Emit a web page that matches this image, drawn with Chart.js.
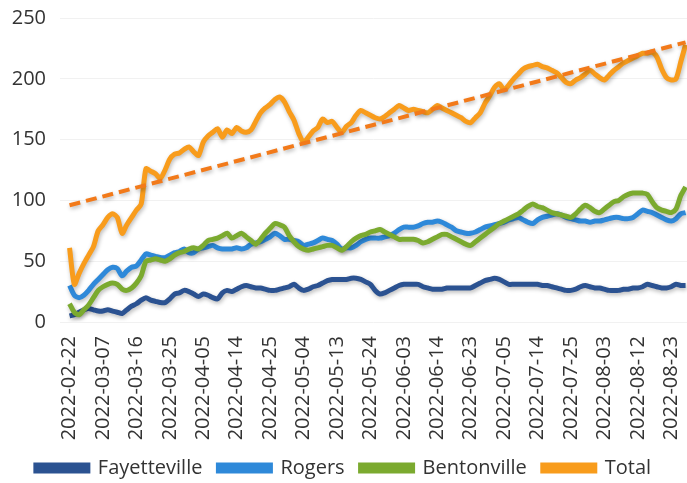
<!DOCTYPE html>
<html>
<head>
  <title>Daily counts by city</title>
  <script src="https://cdn.jsdelivr.net/npm/chart.js"></script>
  <style>
    body { margin: 0; background: #fff; }
    #wrap { width: 687px; height: 483px; }
  </style>
</head>
<body>
  <div id="wrap"><canvas id="cityChart" width="687" height="483"></canvas></div>

  <script>
    // tick labels, one every 7 data points
    const tickLabels = ['2022-02-22', '2022-03-07', '2022-03-16', '2022-03-25', '2022-04-05',
      '2022-04-14', '2022-04-25', '2022-05-04', '2022-05-13', '2022-05-24', '2022-06-03',
      '2022-06-14', '2022-06-23', '2022-07-05', '2022-07-14', '2022-07-25', '2022-08-03',
      '2022-08-12', '2022-08-23'];
    const tickStep = 7;

    const fayetteville = [5, 6, 8, 10, 11, 10, 9, 9, 10, 9, 8, 7, 10, 13, 15, 18, 20, 18, 17, 16,
      16, 19, 23, 24, 26, 25, 23, 21, 23, 22, 20, 19, 24, 26, 25, 27, 29, 30, 29, 28,
      28, 27, 26, 26, 27, 28, 29, 31, 28, 26, 27, 29, 30, 32, 34, 35, 35, 35, 35, 36,
      36, 35, 33, 31, 26, 23, 24, 26, 28, 30, 31, 31, 31, 31, 29, 28, 27, 27, 27, 28,
      28, 28, 28, 28, 28, 30, 32, 34, 35, 36, 35, 33, 31, 31, 31, 31, 31, 31, 31, 30,
      30, 29, 28, 27, 26, 26, 27, 29, 30, 29, 28, 28, 27, 26, 26, 26, 27, 27, 28, 28,
      29, 31, 30, 29, 28, 28, 29, 31, 30, 30];
    const rogers = [30, 22, 20, 22, 26, 31, 35, 39, 43, 45, 44, 38, 42, 45, 46, 51, 56, 55, 54, 53,
      53, 55, 57, 58, 60, 57, 57, 60, 61, 62, 63, 61, 60, 60, 60, 61, 60, 61, 64, 65,
      66, 68, 70, 73, 71, 68, 68, 67, 66, 63, 64, 65, 67, 69, 68, 67, 64, 60, 61, 61,
      63, 66, 68, 69, 69, 69, 70, 71, 73, 76, 78, 78, 78, 79, 81, 82, 82, 83, 82, 80,
      78, 75, 74, 73, 73, 74, 76, 78, 79, 80, 81, 82, 84, 85, 86, 84, 82, 81, 84, 86,
      87, 88, 89, 88, 86, 85, 84, 83, 83, 82, 83, 83, 84, 85, 86, 86, 85, 85, 86, 89,
      92, 91, 90, 88, 86, 84, 83, 85, 89, 90];
    const bentonville = [15, 8, 6, 10, 14, 20, 26, 29, 31, 32, 31, 27, 26, 28, 32, 38, 50, 51, 52, 51,
      50, 52, 55, 57, 58, 60, 61, 60, 63, 67, 68, 69, 71, 73, 69, 71, 73, 70, 67, 64,
      68, 73, 77, 81, 80, 78, 71, 66, 62, 60, 59, 60, 61, 62, 63, 63, 61, 59, 62, 66,
      69, 71, 72, 74, 75, 76, 74, 72, 70, 68, 68, 68, 68, 67, 65, 66, 68, 70, 72, 72,
      70, 68, 66, 64, 63, 66, 69, 72, 75, 78, 81, 83, 85, 87, 89, 92, 95, 97, 95, 94,
      92, 90, 89, 88, 87, 86, 89, 93, 96, 94, 91, 90, 93, 96, 99, 100, 103, 105, 106, 106,
      106, 105, 99, 94, 92, 91, 90, 93, 104, 111];
    const total = [61, 31, 40, 48, 55, 62, 75, 80, 86, 89, 86, 73, 80, 86, 92, 97, 126, 124, 122, 118,
      125, 134, 138, 139, 142, 144, 140, 137, 148, 153, 156, 159, 152, 158, 155, 160, 157, 156, 158, 165,
      172, 176, 179, 183, 185, 181, 173, 166, 155, 148, 152, 157, 160, 167, 164, 165, 160, 156, 161, 164,
      170, 174, 172, 170, 168, 167, 169, 172, 175, 178, 176, 174, 175, 174, 173, 172, 175, 178, 176, 174,
      172, 170, 168, 165, 164, 168, 172, 180, 186, 193, 196, 191, 195, 200, 204, 208, 210, 211, 212, 210,
      209, 207, 205, 201, 197, 196, 199, 201, 204, 207, 204, 201, 199, 203, 207, 210, 213, 215, 217, 219,
      221, 221, 222, 218, 208, 201, 199, 200, 214, 228];
    // linear trend of Total, first and last point
    const totalTrend = [96, 230];

    const toPoints = arr => arr.map((v, i) => ({ x: i, y: v }));
    const lastIndex = total.length - 1;

    const font = 'Open Sans';

    // soft drop shadow under the lines, like the office chart
    const shadowPlugin = {
      id: 'lineShadow',
      beforeDatasetDraw(chart) {
        const ctx = chart.ctx;
        ctx.save();
        ctx.shadowColor = 'rgba(0,0,0,0.28)';
        ctx.shadowBlur = 4;
        ctx.shadowOffsetX = 1;
        ctx.shadowOffsetY = 2;
      },
      afterDatasetDraw(chart) {
        chart.ctx.restore();
      }
    };

    const line = (label, data, color, order) => ({
      label: label,
      data: toPoints(data),
      borderColor: color,
      backgroundColor: color,
      borderWidth: 5,
      pointRadius: 0,
      tension: 0.25,
      order: order
    });

    const ctx = document.getElementById('cityChart').getContext('2d');
    new Chart(ctx, {
      type: 'line',
      data: {
        datasets: [
          line('Fayetteville', fayetteville, '#2B5291', 4),
          line('Rogers', rogers, '#2E89D9', 3),
          line('Bentonville', bentonville, '#7BAA2F', 2),
          line('Total', total, '#F89C1C', 1),
          {
            label: 'trend',
            data: [{ x: 0, y: totalTrend[0] }, { x: lastIndex, y: totalTrend[1] }],
            borderColor: '#F27A1A',
            borderWidth: 4,
            borderDash: [11, 6],
            pointRadius: 0,
            order: 0
          }
        ]
      },
      options: {
        responsive: false,
        animation: false,
        layout: { padding: { top: 18, right: 0, left: 0, bottom: -5 } },
        scales: {
          x: {
            type: 'linear',
            min: -2,
            max: lastIndex + 0.3,
            afterBuildTicks: scale => {
              scale.ticks = tickLabels.map((_, k) => ({ value: k * tickStep }));
            },
            afterFit: scale => {
              scale.height = 120;
              scale.paddingLeft = 0;
              scale.paddingRight = 0;
            },
            ticks: {
              autoSkip: false,
              minRotation: 90,
              maxRotation: 90,
              padding: 14,
              color: '#333',
              font: { family: font, size: 20 },
              callback: value => tickLabels[Math.round(value / tickStep)]
            },
            grid: { display: false, drawTicks: false },
            border: { display: false }
          },
          y: {
            min: 0,
            max: 250,
            afterFit: scale => {
              scale.width = 60;
              scale.paddingTop = 0;
              scale.paddingBottom = 0;
            },
            ticks: {
              stepSize: 50,
              padding: 14,
              color: '#333',
              font: { family: font, size: 20 }
            },
            grid: { color: '#f1f1f1', lineWidth: 1, drawTicks: false },
            border: { display: false }
          }
        },
        plugins: {
          legend: {
            position: 'bottom',
            labels: {
              boxWidth: 52,
              boxHeight: 6,
              padding: 16,
              color: '#333',
              font: { family: font, size: 20 },
              filter: item => item.text !== 'trend',
              sort: (a, b) => a.datasetIndex - b.datasetIndex
            }
          },
          tooltip: { enabled: false }
        }
      },
      plugins: [shadowPlugin]
    });
  </script>
</body>
</html>
